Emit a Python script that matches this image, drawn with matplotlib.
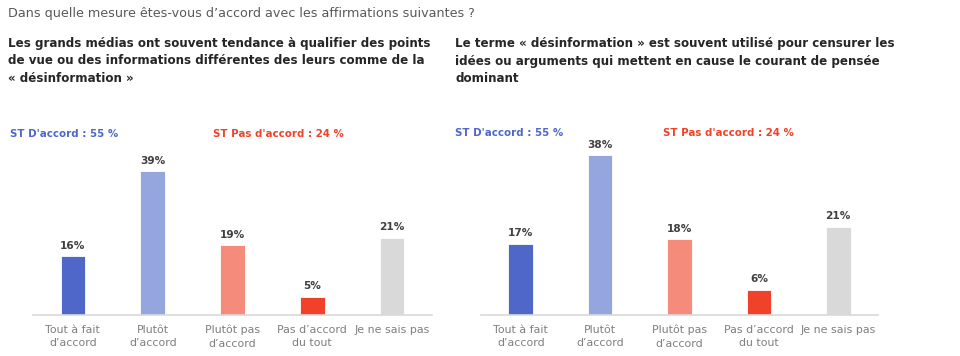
import matplotlib
matplotlib.use("Agg")
import matplotlib.pyplot as plt

categories = ["Tout à fait\nd’accord", "Plutôt\nd’accord", "Plutôt pas\nd’accord", "Pas d’accord\ndu tout", "Je ne sais pas"]
values_left = [16, 39, 19, 5, 21]
values_right = [17, 38, 18, 6, 21]
labels_left = ["16%", "39%", "19%", "5%", "21%"]
labels_right = ["17%", "38%", "18%", "6%", "21%"]
colors = ["#4e67c8", "#95a6de", "#f58c7b", "#f0412a", "#d9d9d9"]

title = "Dans quelle mesure êtes-vous d’accord avec les affirmations suivantes ?"
sub_left = "Les grands médias ont souvent tendance à qualifier des points\nde vue ou des informations différentes des leurs comme de la\n« désinformation »"
sub_right = "Le terme « désinformation » est souvent utilisé pour censurer les\nidées ou arguments qui mettent en cause le courant de pensée\ndominant"
st_agree = "ST D'accord : 55 %"
st_disagree = "ST Pas d'accord : 24 %"

plt.rcParams['font.family'] = ['DejaVu Sans']
W, H = 960, 356
fig = plt.figure(figsize=(9.6, 3.56), dpi=100)
fig.patch.set_facecolor("white")

def px(x, y):
    return x / W, 1 - y / H

fig.text(*px(8, 14), title, fontsize=9.15, color="#595959", va="center", ha="left")
fig.text(*px(8, 37), sub_left, fontsize=8.6, color="#262626", fontweight="bold", va="top", ha="left", linespacing=1.45)
fig.text(*px(455, 37), sub_right, fontsize=8.6, color="#262626", fontweight="bold", va="top", ha="left", linespacing=1.45)
fig.text(*px(10, 134), st_agree, fontsize=7.4, color="#4e67c8", fontweight="bold", va="center", ha="left")
fig.text(*px(213, 134), st_disagree, fontsize=7.4, color="#f0412a", fontweight="bold", va="center", ha="left")
fig.text(*px(455, 133), st_agree, fontsize=7.4, color="#4e67c8", fontweight="bold", va="center", ha="left")
fig.text(*px(663, 133), st_disagree, fontsize=7.4, color="#f0412a", fontweight="bold", va="center", ha="left")

def draw(ax, vals, labs):
    x = list(range(len(vals)))
    ax.bar(x, vals, width=0.31, color=colors, edgecolor="white", linewidth=0.6)
    for xi, v, l in zip(x, vals, labs):
        ax.annotate(l, (xi, v), xytext=(0, 4), textcoords="offset points",
                    ha="center", va="bottom", fontsize=7.6, fontweight="bold", color="#404040")
    ax.set_xlim(-0.5, 4.5)
    ax.set_ylim(0, 45)
    ax.set_xticks(x)
    ax.set_xticklabels(categories, fontsize=7.9, color="#7f7f7f", linespacing=1.45)
    ax.tick_params(axis="x", length=0, pad=7)
    ax.set_yticks([])
    for s in ["top", "right", "left"]:
        ax.spines[s].set_visible(False)
    ax.spines["bottom"].set_color("#d9d9d9")
    ax.spines["bottom"].set_linewidth(1.2)
    ax.set_facecolor("none")

base = 1 - 315 / H
axl = fig.add_axes([33 / W, base, 399 / W, 45 * 3.68 / H])
draw(axl, values_left, labels_left)
axr = fig.add_axes([481 / W, base, 397 / W, 45 * 4.2 / H])
draw(axr, values_right, labels_right)

fig.savefig("out.png", dpi=100, facecolor="white")
